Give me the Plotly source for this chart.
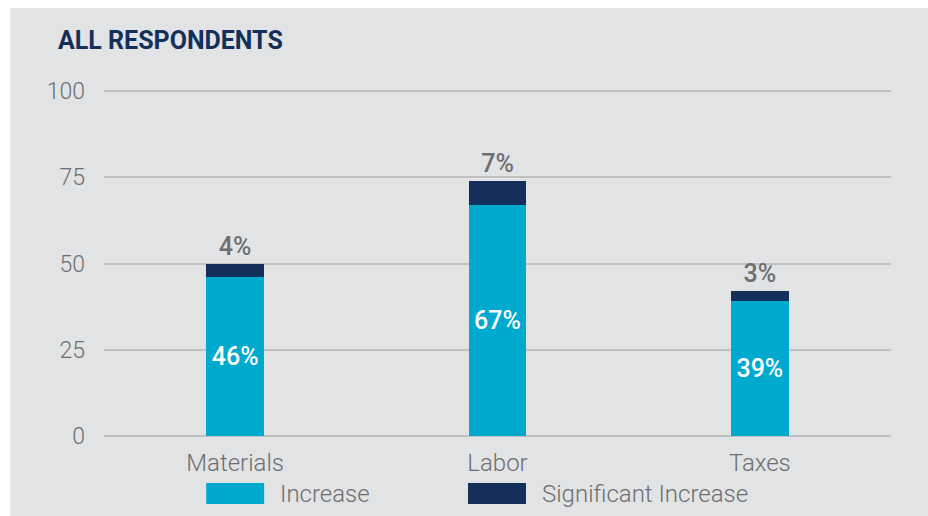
import plotly.graph_objects as go

categories = ["Materials", "Labor", "Taxes"]
increase = [46, 67, 39]
significant = [4, 7, 3]
series_names = ["Increase", "Significant Increase"]
y_ticks = [0, 25, 50, 75, 100]

W, H = 928, 516
Y0_PX, Y100_PX = 436.0, 91.0
UNIT = (Y0_PX - Y100_PX) / 100.0
PADPX = 2.0
ML, MR = 103.75, 36.75
MT, MB = Y100_PX - PADPX, H - (Y0_PX + PADPX)
PW, PH = W - ML - MR, H - MT - MB
YRANGE = [-PADPX / UNIT, 100 + PADPX / UNIT]

def px_x(p):
    return (p - ML) / PW

def px_y(p):
    return (H - MB - p) / PH

CYAN = "#00a9ce"
NAVY = "#14305a"
GRAY_TXT = "#6d6e71"
BG = "#e2e3e5"
FONT = "Roboto"

fig = go.Figure()
fig.add_trace(go.Bar(
    x=categories, y=increase, name=series_names[0],
    marker=dict(color=CYAN, line=dict(width=0)), width=0.22,
    text=[f"{v}%" for v in increase], textposition="inside",
    insidetextanchor="middle", textangle=0, constraintext="none",
    textfont=dict(family=FONT, size=25, color="white", weight=500),
))
fig.add_trace(go.Bar(
    x=categories, y=significant, name=series_names[1],
    marker=dict(color=NAVY, line=dict(width=0)), width=0.22,
    text=[f"{v}%" for v in significant], textposition="outside",
    textangle=0, constraintext="none", cliponaxis=False,
    textfont=dict(family=FONT, size=25, color=GRAY_TXT, weight=500),
))

shapes = [
    # white frame strips (top and left) over the grey page
    dict(type="rect", xref="paper", yref="paper", layer="below",
         x0=px_x(-5), x1=px_x(W + 5), y0=px_y(8), y1=px_y(-5),
         fillcolor="white", line=dict(width=0)),
    dict(type="rect", xref="paper", yref="paper", layer="below",
         x0=px_x(-5), x1=px_x(10), y0=px_y(H + 5), y1=px_y(-5),
         fillcolor="white", line=dict(width=0)),
]
annotations = []
legend_items = [(206, 264, 278, CYAN, series_names[0]),
                (468, 526, 540, NAVY, series_names[1])]
for x0, x1, tx, col, name in legend_items:
    shapes.append(dict(type="rect", xref="paper", yref="paper",
                       x0=px_x(x0), x1=px_x(x1), y0=px_y(504), y1=px_y(483),
                       fillcolor=col, line=dict(width=0)))
    annotations.append(dict(xref="paper", yref="paper", x=px_x(tx), y=px_y(494),
                            xanchor="left", yanchor="middle", showarrow=False,
                            text=name,
                            font=dict(family=FONT, size=24, color=GRAY_TXT, weight=300)))

fig.update_layout(
    width=W, height=H,
    margin=dict(l=ML, r=MR, t=MT, b=MB, pad=0),
    paper_bgcolor=BG, plot_bgcolor="rgba(0,0,0,0)",
    barmode="stack", showlegend=False,
    title=dict(text="<b>ALL RESPONDENTS</b>", x=58 / W, xanchor="left",
               y=1 - 40 / H, yanchor="middle", xref="container", yref="container",
               font=dict(family=FONT, size=25, color=NAVY)),
    shapes=shapes, annotations=annotations,
    xaxis=dict(range=[-0.5, 2.5], showgrid=False, zeroline=False, showline=False,
               ticks="", ticklabelstandoff=8,
               tickfont=dict(family=FONT, size=24, color=GRAY_TXT, weight=300)),
    yaxis=dict(range=YRANGE, tickvals=y_ticks, showgrid=True,
               gridcolor="#bfc0c2", gridwidth=1.5, zeroline=False, showline=False,
               ticks="", ticklabelstandoff=18,
               tickfont=dict(family=FONT, size=23, color=GRAY_TXT, weight=300)),
)

fig.write_html(
    "out.html",
    config={"displayModeBar": False},
    post_script=(
        "document.body.style.margin='0';"
        "document.body.style.overflow='hidden';"
        "document.documentElement.style.background='" + BG + "';"
        "document.body.style.background='" + BG + "';"
    ),
)
